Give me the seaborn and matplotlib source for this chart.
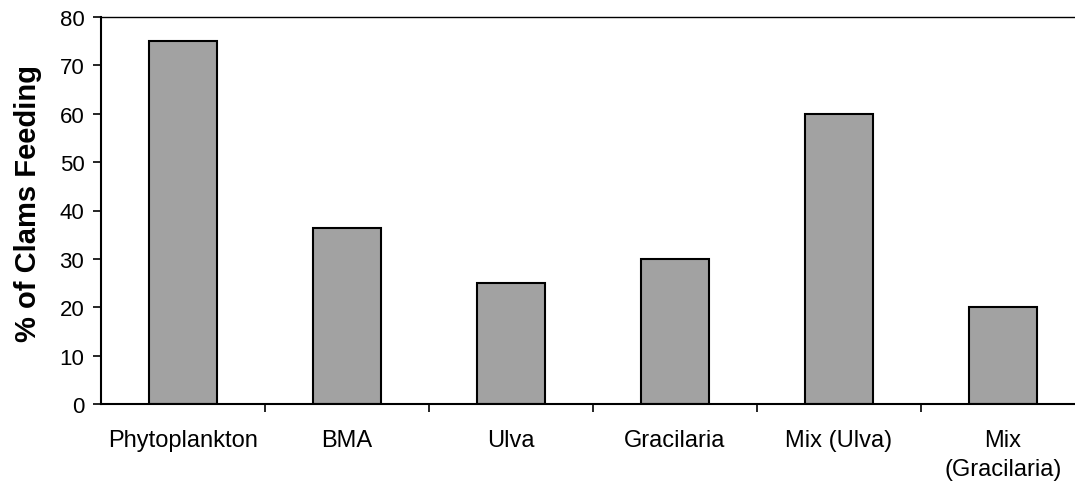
import matplotlib
matplotlib.use("Agg")
import matplotlib.pyplot as plt
import seaborn as sns
import pandas as pd
from matplotlib.ticker import FixedLocator, NullFormatter

categories = ["Phytoplankton", "BMA", "Ulva", "Gracilaria", "Mix (Ulva)", "Mix\n(Gracilaria)"]
values = [75, 36.4, 25, 30, 60, 20]
y_ticks = [0, 10, 20, 30, 40, 50, 60, 70, 80]
y_label = "% of Clams Feeding"

sns.set_theme(style="white")
plt.rcParams['font.family'] = ['Liberation Sans', 'DejaVu Sans']
plt.rcParams['text.color'] = 'black'
plt.rcParams['xtick.color'] = 'black'
plt.rcParams['ytick.color'] = 'black'
plt.rcParams['axes.labelcolor'] = 'black'

df = pd.DataFrame({"cat": categories, "val": values})

fig = plt.figure(figsize=(10.75, 4.89), dpi=100)
ax = fig.add_axes([101/1075, 1-405/489, 984/1075, 387/489])

sns.barplot(data=df, x="cat", y="val", ax=ax, color="#a2a2a2", saturation=1,
            width=0.42, edgecolor="black", linewidth=1.5)

ax.set_xlim(-0.5, 5.5)
ax.set_ylim(0, 80)
ax.set_yticks(y_ticks)
ax.set_yticklabels([str(t) for t in y_ticks], fontsize=16)
ax.set_xticks(range(len(categories)))
ax.set_xticklabels(categories, fontsize=17, linespacing=1.4)
ax.tick_params(axis='x', which='major', length=0, pad=18)
ax.xaxis.set_minor_locator(FixedLocator([0.5, 1.5, 2.5, 3.5, 4.5]))
ax.xaxis.set_minor_formatter(NullFormatter())
ax.tick_params(axis='x', which='minor', bottom=True, length=6, width=1.2, direction='out', color='black')
ax.tick_params(axis='y', which='major', left=True, length=6, width=1.2, direction='out', color='black', pad=6)

ax.set_xlabel("")
ax.set_ylabel(y_label, fontsize=21, fontweight='bold')
ax.yaxis.set_label_coords(-0.06, 0.52)

for s in ["left", "bottom"]:
    ax.spines[s].set_color("black")
    ax.spines[s].set_linewidth(1.5)
ax.spines["top"].set_color("black")
ax.spines["top"].set_linewidth(1.0)
ax.spines["right"].set_visible(False)

fig.savefig("out.png", dpi=100)
